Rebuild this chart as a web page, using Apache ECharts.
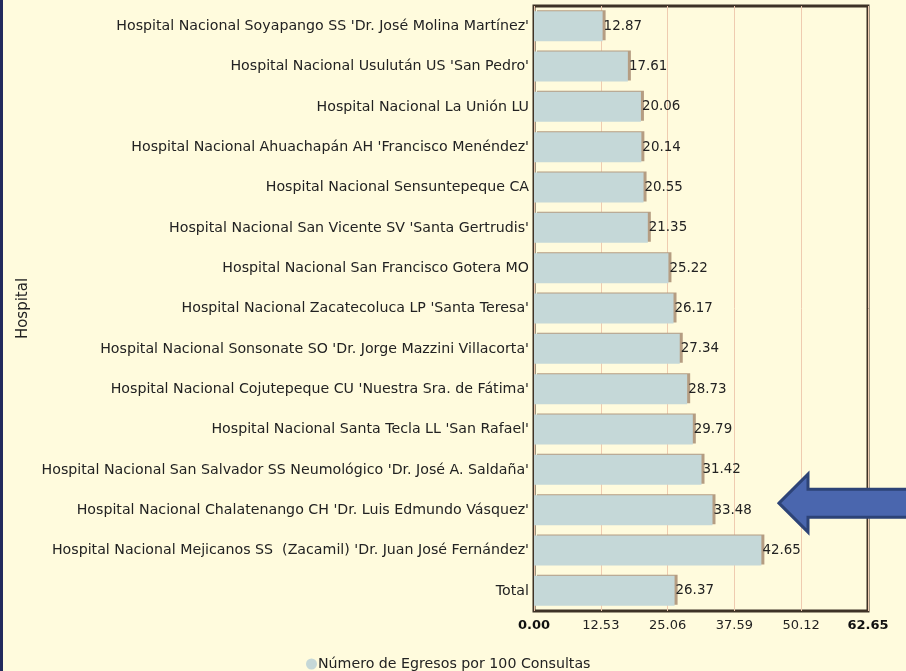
<!DOCTYPE html>
<html>
<head>
<meta charset="utf-8">
<script src="https://cdn.jsdelivr.net/npm/echarts@6/dist/echarts.min.js"></script>
<style>
  html, body { margin: 0; padding: 0; background: #fffbdd; }
  #chart { width: 906px; height: 671px; }
</style>
</head>
<body>
<div id="chart"></div>
<script>
// hospitales (de arriba hacia abajo)
const hospitales = [
  "Hospital Nacional Soyapango SS 'Dr. José Molina Martínez'",
  "Hospital Nacional Usulután US 'San Pedro'",
  "Hospital Nacional La Unión LU",
  "Hospital Nacional Ahuachapán AH 'Francisco Menéndez'",
  "Hospital Nacional Sensuntepeque CA",
  "Hospital Nacional San Vicente SV 'Santa Gertrudis'",
  "Hospital Nacional San Francisco Gotera MO",
  "Hospital Nacional Zacatecoluca LP 'Santa Teresa'",
  "Hospital Nacional Sonsonate SO 'Dr. Jorge Mazzini Villacorta'",
  "Hospital Nacional Cojutepeque CU 'Nuestra Sra. de Fátima'",
  "Hospital Nacional Santa Tecla LL 'San Rafael'",
  "Hospital Nacional San Salvador SS Neumológico 'Dr. José A. Saldaña'",
  "Hospital Nacional Chalatenango CH 'Dr. Luis Edmundo Vásquez'",
  "Hospital Nacional Mejicanos SS  (Zacamil) 'Dr. Juan José Fernández'",
  "Total"
]

// egresos por 100 consultas
const egresos = [12.87, 17.61, 20.06, 20.14, 20.55, 21.35, 25.22, 26.17, 27.34, 28.73, 29.79, 31.42, 33.48, 42.65, 26.37]

// eje x
const ejeMax = 62.65
const ejeIntervalo = 12.53

// hospital señalado con la flecha
const destacado = "Hospital Nacional Chalatenango CH 'Dr. Luis Edmundo Vásquez'"

const fuente = 'DejaVu Sans'

let myChart = echarts.init(document.getElementById('chart'))

let option = {
  backgroundColor: '#fffbdd',
  animation: false,
  grid: {
    left: 534,
    right: 38,
    top: 6,
    bottom: 60,
    show: true,
    borderColor: '#3e3226',
    borderWidth: 3,
    backgroundColor: 'transparent'
  },
  legend: {
    data: ['Número de Egresos por 100 Consultas'],
    left: 301,
    top: 652,
    icon: 'circle',
    itemWidth: 11,
    itemHeight: 11,
    itemGap: 2,
    textStyle: { fontFamily: fuente, fontSize: 14.2, color: '#222', padding: [0, 0, 0, -4] }
  },
  xAxis: {
    type: 'value',
    min: 0,
    max: ejeMax,
    interval: ejeIntervalo,
    axisLine: { show: false },
    axisTick: { show: false },
    splitLine: { lineStyle: { color: '#efcbb0', width: 1 } },
    axisLabel: {
      margin: 8,
      fontFamily: fuente,
      fontSize: 13,
      color: '#222',
      formatter: function (v) {
        let s = v.toFixed(2)
        if (v === 0 || Math.abs(v - ejeMax) < 1e-6) return '{b|' + s + '}'
        return s
      },
      rich: {
        b: { fontFamily: fuente, fontSize: 13, fontWeight: 'bold', color: '#111' }
      }
    }
  },
  yAxis: {
    type: 'category',
    inverse: true,
    data: hospitales,
    name: 'Hospital',
    nameLocation: 'middle',
    nameGap: 503,
    nameTextStyle: { fontFamily: fuente, fontSize: 15, color: '#222' },
    axisLine: { show: false },
    axisTick: { show: false },
    axisLabel: { margin: 5, fontFamily: fuente, fontSize: 14.2, color: '#222' }
  },
  series: [
    {
      name: 'Número de Egresos por 100 Consultas',
      type: 'bar',
      data: egresos,
      barWidth: 30,
      itemStyle: {
        color: '#c5d8d8',
        shadowColor: '#b59d82',
        shadowBlur: 0,
        shadowOffsetX: 3,
        shadowOffsetY: -1
      },
      label: {
        show: true,
        position: 'right',
        distance: 1,
        fontFamily: fuente,
        fontSize: 13.4,
        color: '#222',
        formatter: p => p.value.toFixed(2)
      }
    }
  ]
}

myChart.setOption(option)

// flecha y borde izquierdo
function dibujarExtras() {
  let cy = myChart.convertToPixel({ yAxisIndex: 0 }, destacado) - 7
  let tip = 779
  let neck = 808
  myChart.setOption({
    graphic: [
      {
        type: 'rect',
        shape: { x: 0, y: 0, width: 3, height: 671 },
        style: { fill: '#222a5c' }
      },
      {
        type: 'polygon',
        shape: {
          points: [
            [tip, cy],
            [neck, cy - 29],
            [neck, cy - 14],
            [912, cy - 14],
            [912, cy + 14],
            [neck, cy + 14],
            [neck, cy + 29]
          ]
        },
        style: { fill: '#4a66ae', stroke: '#2d4377', lineWidth: 3 }
      }
    ]
  })
}

dibujarExtras()
</script>
</body>
</html>
